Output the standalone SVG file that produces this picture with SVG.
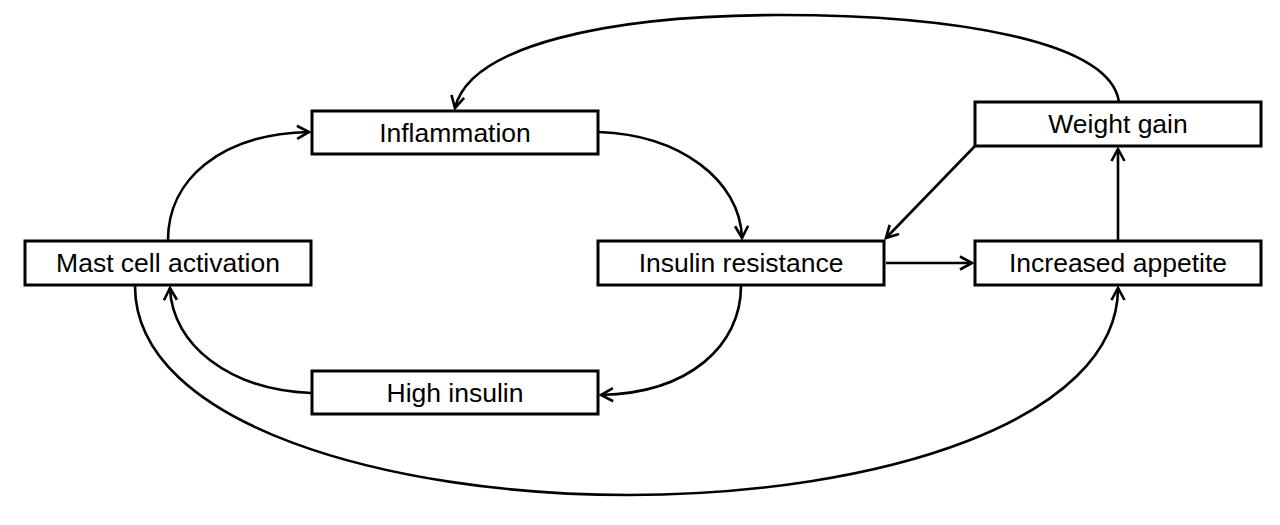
<svg xmlns="http://www.w3.org/2000/svg" width="1280" height="525" viewBox="0 0 1280 525">
<style>
.box{fill:#fff;stroke:#000;stroke-width:3}
.lbl{font-family:"Liberation Sans",Arial,sans-serif;font-size:26.5px;fill:#000;text-anchor:middle}
.c{fill:none;stroke:#000;stroke-width:2.6;marker-end:url(#ah)}
</style>
<defs>
<marker id="ah" markerWidth="18" markerHeight="18" refX="14" refY="9" orient="auto" markerUnits="userSpaceOnUse">
<path d="M2,2.5 L14,9 L2,15.5" fill="none" stroke="#000" stroke-width="2.6"/>
</marker>
</defs>
<rect width="1280" height="525" fill="#fff"/>
<g id="connectors">
<path class="c" d="M168,240 C168,180 220,134 309,132"/>
<path class="c" d="M599,132 C680,135 740,180 742,238"/>
<path class="c" d="M741,286 C741,345 690,393 601,395"/>
<path class="c" d="M311,393 C230,390 172,345 170,288"/>
<path class="c" d="M135,286 C135,425 390,495 628,495 C880,495 1118,420 1118,288"/>
<path class="c" d="M1119,102 C1110,40 950,15 780,15 C610,15 470,45 455,108"/>
<path class="c" d="M975,146 L886,238"/>
<path class="c" d="M886,263 L972,263"/>
<path class="c" d="M1118,241 L1118,149"/>
</g>
<g id="inflammation"><rect class="box" x="312" y="111" width="286" height="43"/><text class="lbl" x="455" y="142">Inflammation</text></g>
<g id="weight-gain"><rect class="box" x="975" y="102" width="286" height="44"/><text class="lbl" x="1118" y="133">Weight gain</text></g>
<g id="mast-cell-activation"><rect class="box" x="25" y="241" width="286" height="44"/><text class="lbl" x="168" y="272">Mast cell activation</text></g>
<g id="insulin-resistance"><rect class="box" x="598" y="241" width="286" height="44"/><text class="lbl" x="741" y="272">Insulin resistance</text></g>
<g id="increased-appetite"><rect class="box" x="975" y="241" width="286" height="44"/><text class="lbl" x="1118" y="272">Increased appetite</text></g>
<g id="high-insulin"><rect class="box" x="312" y="371" width="286" height="43"/><text class="lbl" x="455" y="402">High insulin</text></g>
</svg>
